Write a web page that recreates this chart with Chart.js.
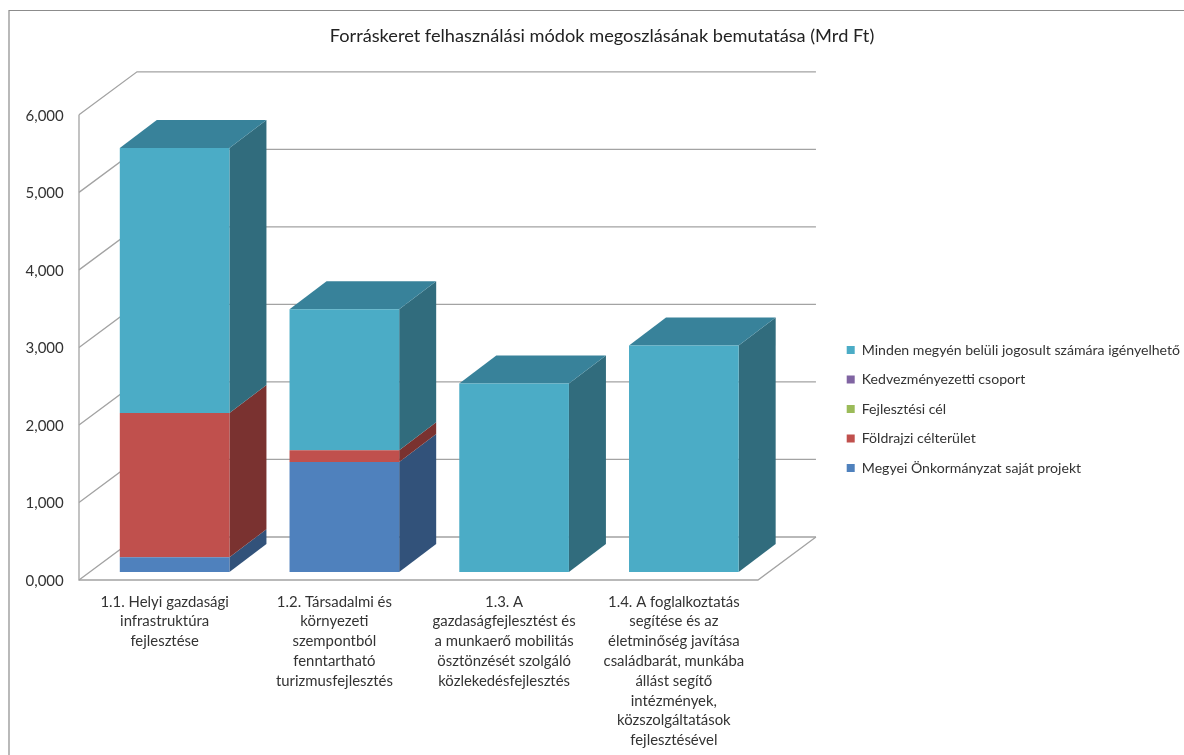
<!DOCTYPE html>
<html>
<head>
<meta charset="utf-8">
<title>Forráskeret</title>
<script src="https://cdn.jsdelivr.net/npm/chart.js@4"></script>
<style>
  html, body { margin: 0; padding: 0; background: #fff; overflow: hidden; }
  canvas { display: block; }
</style>
</head>
<body>
<canvas id="chart" width="1184" height="755"></canvas>
<script>
const titleText = "Forráskeret felhasználási módok megoszlásának bemutatása (Mrd Ft)";

const categories = [
  ["1.1. Helyi gazdasági", "infrastruktúra", "fejlesztése"],
  ["1.2. Társadalmi és", "környezeti", "szempontból", "fenntartható", "turizmusfejlesztés"],
  ["1.3. A", "gazdaságfejlesztést és", "a munkaerő mobilitás", "ösztönzését szolgáló", "közlekedésfejlesztés"],
  ["1.4. A foglalkoztatás", "segítése és az", "életminőség javítása", "családbarát, munkába", "állást segítő", "intézmények,", "közszolgáltatások", "fejlesztésével"]
];

const yTickLabels = ["0,000", "1,000", "2,000", "3,000", "4,000", "5,000", "6,000"];

const seriesNames = [
  "Megyei Önkormányzat saját projekt",
  "Földrajzi célterület",
  "Fejlesztési cél",
  "Kedvezményezetti csoport",
  "Minden megyén belüli jogosult számára igényelhető"
];
const megyei = [0.19, 1.42, 0, 0];
const foldrajzi = [1.86, 0.15, 0, 0];
const fejlesztesi = [0, 0, 0, 0];
const kedvezmenyezetti = [0, 0, 0, 0];
const minden = [3.42, 1.82, 2.43, 2.92];

const frontColors = ["#4F81BD", "#C0504D", "#9BBB59", "#8064A2", "#4BACC6"];
const sideColors = ["#32527A", "#7A3230", "#637738", "#513F68", "#316C7D"];
const topColors = ["#3B6390", "#903C3A", "#748D43", "#604B7A", "#38829A"];

const fontName = "Lato, 'Noto Sans', sans-serif";
const gridColor = "#a3a3a3";

// bar depth, and where the front of the walls sits compared to the bars
const barDepth = { x: 37, y: -28 };
const wallShift = { x: -10.75, y: 8 };
const wallDepth = { x: 58, y: -43 };

const fake3d = {
  id: "fake3d",
  beforeDatasetsDraw(chart) {
    const ctx = chart.ctx;
    const { left, right, bottom } = chart.chartArea;
    const yScale = chart.scales.y;
    const x0 = left + wallShift.x;
    const x1 = right + wallShift.x;
    const floor = bottom + wallShift.y;

    ctx.save();
    // frame of the original picture
    ctx.strokeStyle = "#8c8c8c";
    ctx.lineWidth = 1.2;
    ctx.beginPath();
    ctx.moveTo(9, 755);
    ctx.lineTo(9, 10.5);
    ctx.lineTo(1184, 10.5);
    ctx.stroke();

    // walls and grid
    ctx.strokeStyle = gridColor;
    ctx.lineWidth = 1.3;
    yScale.ticks.forEach((t, i) => {
      const y = yScale.getPixelForTick(i) + wallShift.y;
      ctx.beginPath();
      ctx.moveTo(x0, y);
      ctx.lineTo(x0 + wallDepth.x, y + wallDepth.y);
      ctx.lineTo(x1 + wallDepth.x, y + wallDepth.y);
      ctx.stroke();
    });
    ctx.beginPath();
    ctx.moveTo(x0, yScale.getPixelForTick(yScale.ticks.length - 1) + wallShift.y);
    ctx.lineTo(x0, floor);
    ctx.lineTo(x1, floor);
    ctx.lineTo(x1 + wallDepth.x, floor + wallDepth.y);
    ctx.stroke();

    // side and top faces of the bars
    chart.data.datasets.forEach((ds, d) => {
      chart.getDatasetMeta(d).data.forEach((bar, c) => {
        if (!ds.data[c]) return;
        const xr = bar.x + bar.width / 2;
        const xl = bar.x - bar.width / 2;
        ctx.fillStyle = sideColors[d];
        ctx.beginPath();
        ctx.moveTo(xr, bar.y);
        ctx.lineTo(xr + barDepth.x, bar.y + barDepth.y);
        ctx.lineTo(xr + barDepth.x, bar.base + barDepth.y);
        ctx.lineTo(xr, bar.base);
        ctx.closePath();
        ctx.fill();
        const above = chart.data.datasets.slice(d + 1).some(o => o.data[c] > 0);
        if (!above) {
          ctx.fillStyle = topColors[d];
          ctx.beginPath();
          ctx.moveTo(xl, bar.y);
          ctx.lineTo(xl + barDepth.x, bar.y + barDepth.y);
          ctx.lineTo(xr + barDepth.x, bar.y + barDepth.y);
          ctx.lineTo(xr, bar.y);
          ctx.closePath();
          ctx.fill();
        }
      });
    });
    ctx.restore();
  }
};

const values = [megyei, foldrajzi, fejlesztesi, kedvezmenyezetti, minden];

new Chart(document.getElementById("chart"), {
  type: "bar",
  data: {
    labels: categories,
    datasets: seriesNames.map((name, i) => ({
      label: name,
      data: values[i],
      backgroundColor: frontColors[i],
      borderWidth: 0,
      categoryPercentage: 1,
      barPercentage: 0.646
    }))
  },
  plugins: [fake3d],
  options: {
    responsive: false,
    animation: false,
    layout: { padding: { left: 14, right: -6, top: 0, bottom: -63 } },
    plugins: {
      tooltip: { enabled: false },
      title: {
        display: true,
        text: titleText,
        color: "#222",
        font: { family: fontName, size: 18.2, weight: "normal", lineHeight: 1.2 },
        padding: { top: 25, bottom: 60 }
      },
      legend: {
        position: "right",
        reverse: true,
        maxWidth: 420,
        labels: {
          boxWidth: 8,
          boxHeight: 8,
          padding: 15.4,
          color: "#333",
          font: { family: fontName, size: 14.1 }
        }
      }
    },
    scales: {
      x: {
        stacked: true,
        grid: { display: false, drawTicks: false },
        border: { display: false },
        afterFit(s) { s.height = 246; },
        ticks: {
          autoSkip: false,
          maxRotation: 0,
          minRotation: 0,
          padding: 20,
          labelOffset: -10,
          color: "#333",
          font: { family: fontName, size: 14.9, lineHeight: "19.8px" }
        }
      },
      y: {
        stacked: true,
        min: 0,
        max: 6,
        grid: { display: false, drawTicks: false },
        border: { display: false },
        afterFit(s) { s.width = 75.75; },
        ticks: {
          stepSize: 1,
          padding: 26,
          labelOffset: 9,
          color: "#333",
          font: { family: fontName, size: 15 },
          callback: (v, i) => yTickLabels[i]
        }
      },
      // empty axis, only keeps the legend away from the plot
      spacer: {
        type: "linear",
        position: "right",
        grid: { display: false, drawTicks: false },
        border: { display: false },
        ticks: { display: false },
        afterFit(s) { s.width = 62.6; }
      }
    }
  }
});
</script>
</body>
</html>
